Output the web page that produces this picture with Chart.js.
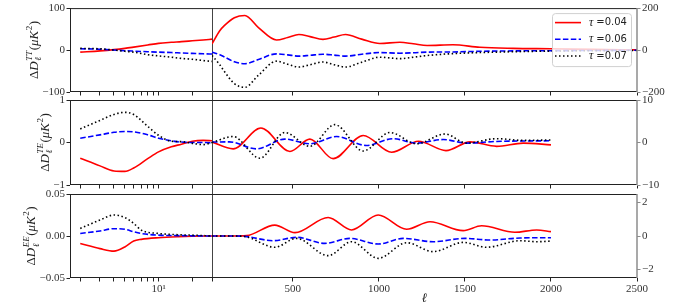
<!DOCTYPE html>
<html>
<head>
<meta charset="utf-8">
<script src="https://cdn.jsdelivr.net/npm/chart.js@4"></script>
<style>
  html, body { margin: 0; padding: 0; background: #fff; }
  #wrap { position: relative; width: 674px; height: 308px; overflow: hidden; }
  #wrap canvas { position: absolute; }
</style>
</head>
<body>
<div id="wrap">
  <canvas id="ttLow"></canvas><canvas id="ttHigh"></canvas>
  <canvas id="teLow"></canvas><canvas id="teHigh"></canvas>
  <canvas id="eeLow"></canvas><canvas id="eeHigh"></canvas>
</div>
<script>
// ---- data ---------------------------------------------------------------
const tauValues = [0.04, 0.06, 0.07];
const lineColors = ['#ff0000', '#0000ff', '#000000'];
const lineDashes = [[], [5.5, 2.4], [1.5, 2.5]];

// axis ticks
const logTicks = [2, 3, 4, 5, 6, 7, 8, 9, 10, 20, 30];
const linTicks = [500, 1000, 1500, 2000, 2500];

// TT, low ell (log part, left axis)
const ellLowTT = [2, 3, 4, 5, 6, 8, 10, 13, 16, 20, 25, 30];
const tt04Low = [-5, -2, 1, 4, 7, 12, 16, 18.5, 20, 22, 24, 26];
const tt06Low = [3, 2, 0, -1.5, -2.5, -4, -5, -6, -7, -8, -9, -9.5];
const tt07Low = [4, 3, 0, -3, -5, -11, -14, -17, -20, -22, -25, -27];
// TT, high ell (linear part, right axis)
const ellHighTT = [30, 75, 100, 160, 221, 300, 405, 470, 535, 600, 675, 740, 806, 900, 1005, 1122, 1200, 1280, 1430, 1587, 1780, 2000, 2250, 2500];
const tt04High = [29, 92, 115, 154, 165, 107, 48, 60, 74, 64, 51, 62, 74, 52, 31, 37, 30, 22, 25, 13, 8, 6, 3, 1];
const tt06High = [-10, -22, -32, -56, -65, -45, -18, -23, -29, -25, -20, -24, -29, -20, -12, -15, -13, -10, -9, -6, -4, -3, -2, -1];
const tt07High = [-26, -70, -100, -160, -178, -120, -53, -68, -81, -70, -57, -70, -81, -58, -34, -41, -34, -26, -17, -12, -8, -5, -3, -2];

// TE
const ellLowTE = [2, 3, 4, 5, 6, 8, 10, 13, 16, 20, 25, 30];
const te04Low = [-0.37, -0.55, -0.67, -0.68, -0.6, -0.38, -0.22, -0.1, -0.04, 0.03, 0.05, 0.04];
const te06Low = [0.1, 0.18, 0.24, 0.26, 0.25, 0.18, 0.1, 0.04, 0.01, 0, 0, -0.01];
const te07Low = [0.32, 0.52, 0.66, 0.71, 0.66, 0.38, 0.17, 0.03, 0.02, -0.02, -0.05, 0];
const ellHighTE04 = [30, 153, 314, 483, 599, 734, 909, 1074, 1230, 1390, 1530, 1684, 1839, 2000];
const te04High = [0.1, -1.5, 3.4, -2.1, 0.8, -3.8, 1.65, -2.3, 0.3, -1.9, 0.15, -0.9, -0.15, -0.55];
const ellHighTE06 = [30, 130, 289, 453, 599, 754, 928, 1083, 1219, 1374, 1510, 1684, 2000];
const te06High = [0.1, 0.15, -1.5, 0.8, -0.3, 1.4, -0.7, 0.9, -0.15, 0.7, -0.15, 0.25, 0.4];
const ellHighTE07 = [30, 153, 308, 453, 599, 744, 909, 1064, 1219, 1384, 1510, 1684, 1839, 2000];
const te07High = [0, 1.4, -3.7, 2.35, -0.9, 4.2, -2.0, 2.35, -0.3, 2.0, -0.15, 0.9, 0.5, 0.6];

// EE
const ellLowEE = [2, 3, 4, 5, 6, 7, 10, 15, 20, 30];
const ee04Low = [-0.009, -0.015, -0.018, -0.013, -0.006, -0.004, -0.002, -0.0008, -0.0003, 0];
const ee06Low = [0.003, 0.006, 0.0087, 0.008, 0.005, 0.003, 0.001, 0.0005, 0.0002, 0];
const ee07Low = [0.009, 0.019, 0.025, 0.022, 0.015, 0.007, 0.003, 0.0015, 0.001, 0];
const ellHighEE04 = [30, 150, 231, 395, 512, 705, 841, 996, 1161, 1297, 1490, 1597, 1790, 1917, 2000];
const ee04High = [0, 0, 0.02, 0.65, 0.2, 1.1, 0.36, 1.25, 0.4, 0.85, 0.32, 0.61, 0.22, 0.36, 0.26];
const ellHighEE06 = [30, 150, 220, 386, 521, 686, 831, 996, 1141, 1316, 1500, 1645, 1820, 2000];
const ee06High = [0, 0, -0.02, -0.28, -0.08, -0.44, -0.14, -0.48, -0.14, -0.34, -0.14, -0.24, -0.12, -0.1];
const ellHighEE07 = [30, 150, 220, 395, 521, 705, 841, 996, 1161, 1316, 1490, 1626, 1820, 1917, 2000];
const ee07High = [0, 0, -0.03, -0.67, -0.14, -1.17, -0.34, -1.33, -0.4, -0.93, -0.38, -0.67, -0.28, -0.34, -0.3];

// ---- helpers ------------------------------------------------------------
const SERIF = '"Liberation Serif", "DejaVu Serif", serif';
const tickFont = { family: SERIF, size: 11 };
const minus = s => String(s).replace('-', '\u2212');

const series = (xs, ys, i) => ({
  label: 'τ =' + tauValues[i].toFixed(2),
  data: xs.map((x, k) => ({ x, y: ys[k] })),
  borderColor: lineColors[i],
  borderDash: lineDashes[i],
  borderWidth: 1.6,
  pointRadius: 0,
  cubicInterpolationMode: 'monotone',
  fill: false,
  order: 2 - i // black drawn on top, like matplotlib
});

// frame around each panel + the l=30 divider
const framePlugin = {
  id: 'frame',
  afterDatasetsDraw(chart, args, o) {
    const { ctx, chartArea: a } = chart;
    ctx.save();
    ctx.lineWidth = 1;
    ctx.strokeStyle = '#222';
    ctx.beginPath();
    ctx.moveTo(a.left, a.top + 0.5); ctx.lineTo(a.right, a.top + 0.5);
    ctx.moveTo(a.left, a.bottom - 0.5); ctx.lineTo(a.right, a.bottom - 0.5);
    if (o.side === 'left') { ctx.moveTo(a.left + 0.5, a.top); ctx.lineTo(a.left + 0.5, a.bottom); }
    ctx.stroke();
    if (o.side === 'left') {
      ctx.strokeStyle = '#444';
      ctx.beginPath();
      ctx.moveTo(a.right + 0.5, o.first ? a.top : 0);
      ctx.lineTo(a.right + 0.5, o.last ? a.bottom : chart.height);
      ctx.stroke();
    } else {
      ctx.strokeStyle = '#8c8c8c';
      ctx.lineWidth = 1.5;
      ctx.beginPath(); ctx.moveTo(a.right, a.top); ctx.lineTo(a.right, a.bottom); ctx.stroke();
    }
    ctx.restore();
  }
};

// y label  ΔD_l^{XY}(μK^2), drawn with sub/superscripts
const ylabPlugin = {
  id: 'ylab',
  afterDraw(chart, args, o) {
    if (!o.sup) return;
    const { ctx, chartArea: a } = chart;
    const ys = chart.scales.y;
    ctx.save();
    ctx.font = `11px ${SERIF}`;
    const w = Math.max(...ys.ticks.map(t => ctx.measureText(t.label).width));
    const cx = ys.right - 5 - w - 9;
    const cy = (a.top + a.bottom) / 2;
    const f = (size, it) => `${it ? 'italic ' : ''}${size}px ${SERIF}`;
    const parts = [
      { text: 'Δ', font: f(13, false) },
      { text: 'D', font: f(13, true) },
      { sup: o.sup, sub: 'ℓ', font: f(9, true) },
      { text: '(', font: f(13, false) },
      { text: 'μK', font: f(13, true) },
      { sup: '2', font: f(9, false) },
      { text: ')', font: f(13, false) }
    ];
    let total = 0;
    parts.forEach(p => {
      ctx.font = p.font;
      p.w = Math.max(...[p.text, p.sup, p.sub].filter(Boolean).map(s => ctx.measureText(s).width)) + (p.sup ? 1 : 0);
      total += p.w;
    });
    ctx.translate(cx, cy);
    ctx.rotate(-Math.PI / 2);
    ctx.fillStyle = '#222';
    let x = -total / 2;
    parts.forEach(p => {
      ctx.font = p.font;
      if (p.text) ctx.fillText(p.text, x, 4.5);
      if (p.sup) ctx.fillText(p.sup, x + 0.5, -1.5);
      if (p.sub) ctx.fillText(p.sub, x + 0.5, 8);
      x += p.w;
    });
    ctx.restore();
  }
};

// matplotlib-like legend box in the upper right
const legendPlugin = {
  id: 'tauLegend',
  afterDraw(chart) {
    const { ctx, chartArea: a } = chart;
    const bw = 79, bh = 53, bx = a.right - 6 - bw, by = a.top + 5;
    ctx.save();
    ctx.beginPath();
    ctx.roundRect(bx + 0.5, by + 0.5, bw, bh, 3);
    ctx.fillStyle = 'rgba(255,255,255,0.8)';
    ctx.fill();
    ctx.strokeStyle = '#d0d0d0';
    ctx.lineWidth = 1;
    ctx.stroke();
    chart.data.datasets.forEach((ds, i) => {
      const y = by + 9.5 + i * 16.7;
      ctx.beginPath();
      ctx.setLineDash(ds.borderDash);
      ctx.strokeStyle = ds.borderColor;
      ctx.lineWidth = ds.borderWidth;
      ctx.moveTo(bx + 3, y); ctx.lineTo(bx + 29, y);
      ctx.stroke();
      ctx.setLineDash([]);
      ctx.fillStyle = '#222';
      ctx.textBaseline = 'middle';
      ctx.font = `italic 12px ${SERIF}`;
      ctx.fillText(ds.label[0], bx + 37, y);
      const tw = ctx.measureText(ds.label[0] + ' ').width;
      ctx.font = '10px "DejaVu Sans"';
      ctx.fillText(ds.label.slice(1).trim(), bx + 37 + tw, y);
    });
    ctx.restore();
  }
};

// ---- layout -------------------------------------------------------------
const rows = [
  { top: 0, height: 102, padTop: 7, axisH: 10 },
  { top: 90, height: 105, padTop: 10, axisH: 10 },
  { top: 184, height: 124, padTop: 10, axisH: 30 }
];

function makeChart(id, side, r, cfg) {
  const row = rows[r];
  const left = side === 'left';
  const last = r === rows.length - 1;
  const el = document.getElementById(id);
  el.width = left ? 224 : 474;
  el.height = row.height;
  el.style.left = (left ? 0 : 200) + 'px';
  el.style.top = row.top + 'px';

  const xScale = left ? {
    type: 'logarithmic', min: 1.62, max: 30,
    afterBuildTicks: s => { s.ticks = logTicks.map(v => ({ value: v, major: v === 10 })); },
    ticks: { callback: v => (last && v === 10 ? '10¹' : '') }
  } : {
    type: 'linear', min: 30, max: 2500,
    afterBuildTicks: s => { s.ticks = linTicks.map(v => ({ value: v })); },
    ticks: { callback: v => (last ? String(v) : '') },
    title: { display: last, text: 'ℓ', color: '#222', padding: { top: 0, bottom: 2 },
             font: { family: SERIF, size: 13, style: 'italic' } }
  };
  Object.assign(xScale, {
    position: 'bottom', bounds: 'data',
    afterFit: s => { s.height = row.axisH; },
    grid: { drawOnChartArea: false, drawTicks: true, tickLength: 3.5, color: '#222' },
    border: { display: false }
  });
  Object.assign(xScale.ticks, { font: tickFont, color: '#333', padding: 1.5, autoSkip: false, maxRotation: 0 });

  return new Chart(el.getContext('2d'), {
    type: 'line',
    data: { datasets: cfg.datasets },
    options: {
      responsive: false,
      animation: false,
      events: [],
      layout: { padding: { top: row.padTop, bottom: 0, left: left ? 0 : 12, right: left ? 12 : 0 } },
      scales: {
        x: xScale,
        y: {
          type: 'linear', position: side, min: cfg.range[0], max: cfg.range[1], bounds: 'data',
          afterBuildTicks: s => { s.ticks = cfg.ticks.map(v => ({ value: v })); },
          afterFit: s => { s.width = left ? 70 : 37; },
          ticks: { font: tickFont, color: '#333', padding: 1.5, callback: cfg.fmt },
          grid: { drawOnChartArea: false, drawTicks: true, tickLength: 3.5, color: left ? '#222' : '#8c8c8c' },
          border: { display: false }
        }
      },
      plugins: {
        legend: { display: false },
        tooltip: { enabled: false },
        frame: { side, first: r === 0, last },
        ylab: { sup: left ? cfg.sup : null }
      }
    },
    plugins: [framePlugin, ylabPlugin].concat(cfg.legend ? [legendPlugin] : [])
  });
}

const intFmt = v => minus(v);
const eeFmt = v => minus(v.toFixed(2));

makeChart('ttLow', 'left', 0, {
  datasets: [series(ellLowTT, tt04Low, 0), series(ellLowTT, tt06Low, 1), series(ellLowTT, tt07Low, 2)],
  range: [-100, 100], ticks: [-100, 0, 100], fmt: intFmt, sup: 'TT'
});
makeChart('ttHigh', 'right', 0, {
  datasets: [series(ellHighTT, tt04High, 0), series(ellHighTT, tt06High, 1), series(ellHighTT, tt07High, 2)],
  range: [-200, 200], ticks: [-200, 0, 200], fmt: intFmt, legend: true
});
makeChart('teLow', 'left', 1, {
  datasets: [series(ellLowTE, te04Low, 0), series(ellLowTE, te06Low, 1), series(ellLowTE, te07Low, 2)],
  range: [-1, 1], ticks: [-1, 0, 1], fmt: intFmt, sup: 'TE'
});
makeChart('teHigh', 'right', 1, {
  datasets: [series(ellHighTE04, te04High, 0), series(ellHighTE06, te06High, 1), series(ellHighTE07, te07High, 2)],
  range: [-10, 10], ticks: [-10, 0, 10], fmt: intFmt
});
makeChart('eeLow', 'left', 2, {
  datasets: [series(ellLowEE, ee04Low, 0), series(ellLowEE, ee06Low, 1), series(ellLowEE, ee07Low, 2)],
  range: [-0.05, 0.05], ticks: [-0.05, 0, 0.05], fmt: eeFmt, sup: 'EE'
});
makeChart('eeHigh', 'right', 2, {
  datasets: [series(ellHighEE04, ee04High, 0), series(ellHighEE06, ee06High, 1), series(ellHighEE07, ee07High, 2)],
  range: [-2.5, 2.5], ticks: [-2, 0, 2], fmt: intFmt
});
</script>
</body>
</html>
